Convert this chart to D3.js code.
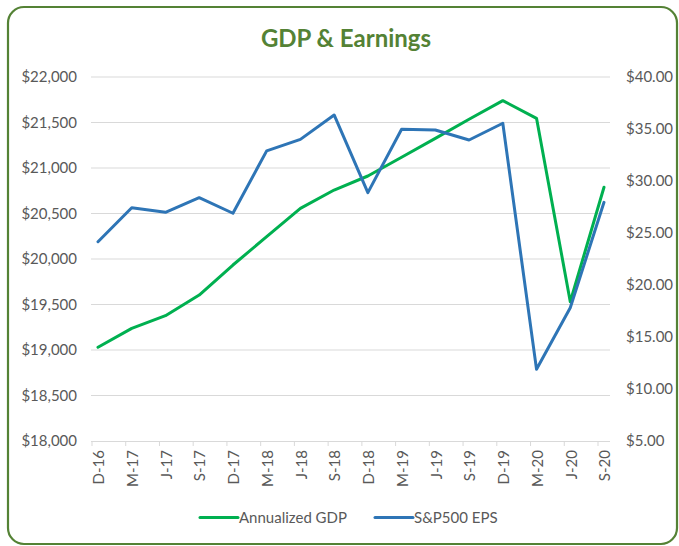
<!DOCTYPE html>
<html>
<head>
<meta charset="utf-8">
<script src="https://cdn.jsdelivr.net/npm/d3@7"></script>
<style>
  html, body { margin: 0; padding: 0; background: #fff; }
  svg { display: block; font-family: Lato, "Open Sans", sans-serif; }
</style>
</head>
<body>
<svg id="chart" width="679" height="546"></svg>
<script>
const categories = ["D-16","M-17","J-17","S-17","D-17","M-18","J-18","S-18","D-18","M-19","J-19","S-19","D-19","M-20","J-20","S-20"];
const gdpValues = [19030,19238,19377,19604,19934,20245,20557,20758,20912,21118,21326,21535,21740,21546,19531,20788];
const epsValues = [24.16,27.43,26.99,28.40,26.90,32.90,34.00,36.35,28.88,34.97,34.90,33.94,35.55,11.89,17.82,27.95];
const leftTicks = [18000,18500,19000,19500,20000,20500,21000,21500,22000];
const rightTicks = [5,10,15,20,25,30,35,40];
const seriesNames = ["Annualized GDP","S&P500 EPS"];
const seriesColors = ["#00B050","#2E75B6"];

const svg = d3.select("#chart");
const plot = {left: 91, right: 610, top: 77, bottom: 441};

// border
svg.append("rect").attr("x", 8).attr("y", 7).attr("width", 669).attr("height", 537)
  .attr("rx", 16).attr("ry", 16).attr("fill", "#fff").attr("stroke", "#548235").attr("stroke-width", 2.2);

// title
svg.append("text").attr("x", 346).attr("y", 47).attr("text-anchor", "middle")
  .attr("font-size", 24).attr("font-weight", "bold").attr("fill", "#548235")
  .text("GDP & Earnings");

const x = d3.scalePoint().domain(categories).range([98, 604]);
const yL = d3.scaleLinear().domain([18000, 22000]).range([plot.bottom, plot.top]);
const yR = d3.scaleLinear().domain([5, 40]).range([plot.bottom, plot.top]);

// gridlines
svg.append("g").selectAll("line").data(leftTicks.slice(1)).join("line")
  .attr("x1", plot.left).attr("x2", plot.right)
  .attr("y1", d => yL(d)).attr("y2", d => yL(d))
  .attr("stroke", "#d9d9d9").attr("stroke-width", 1);

// left axis labels
const fmtL = d => "$" + d3.format(",")(d);
svg.append("g").selectAll("text").data(leftTicks).join("text")
  .attr("x", 77).attr("y", d => yL(d)).attr("dy", "0.35em").attr("text-anchor", "end")
  .attr("font-size", 15).attr("fill", "#595959").text(fmtL);

// right axis labels
svg.append("g").selectAll("text").data(rightTicks).join("text")
  .attr("x", 626).attr("y", d => yR(d)).attr("dy", "0.35em").attr("text-anchor", "start")
  .attr("font-size", 15).attr("fill", "#595959").text(d => "$" + d3.format(".2f")(d));

// bottom axis
const xAxis = d3.axisBottom(x).tickSize(5).tickFormat("");
const gx = svg.append("g").attr("transform", `translate(0,${plot.bottom})`).call(xAxis);
gx.select(".domain").attr("d", `M${plot.left},0.5H${plot.right}`).attr("stroke", "#d9d9d9");
gx.selectAll(".tick").attr("transform", d => `translate(${x(d) - 6},0)`);
gx.selectAll(".tick line").attr("stroke", "#d9d9d9");

svg.append("g").selectAll("text").data(categories).join("text")
  .attr("transform", d => `translate(${x(d) + 1},450) rotate(-90)`)
  .attr("dy", "0.35em").attr("text-anchor", "end")
  .attr("font-size", 15).attr("fill", "#595959").text(d => d);

// lines
const lineL = d3.line().x((d, i) => x(categories[i])).y(d => yL(d));
const lineR = d3.line().x((d, i) => x(categories[i])).y(d => yR(d));
svg.append("path").datum(gdpValues).attr("d", lineL).attr("fill", "none")
  .attr("stroke", seriesColors[0]).attr("stroke-width", 3).attr("stroke-linejoin", "round").attr("stroke-linecap", "round");
svg.append("path").datum(epsValues).attr("d", lineR).attr("fill", "none")
  .attr("stroke", seriesColors[1]).attr("stroke-width", 3).attr("stroke-linejoin", "round").attr("stroke-linecap", "round");

// legend
const legendX = [200, 375];
seriesNames.forEach((name, i) => {
  const g = svg.append("g").attr("transform", `translate(${legendX[i]},517.5)`);
  g.append("line").attr("x1", 0).attr("x2", 38).attr("y1", 0).attr("y2", 0)
    .attr("stroke", seriesColors[i]).attr("stroke-width", 3).attr("stroke-linecap", "round");
  g.append("text").attr("x", 39).attr("y", 0).attr("dy", "0.35em")
    .attr("font-size", 15).attr("fill", "#595959").text(name);
});
</script>
</body>
</html>
